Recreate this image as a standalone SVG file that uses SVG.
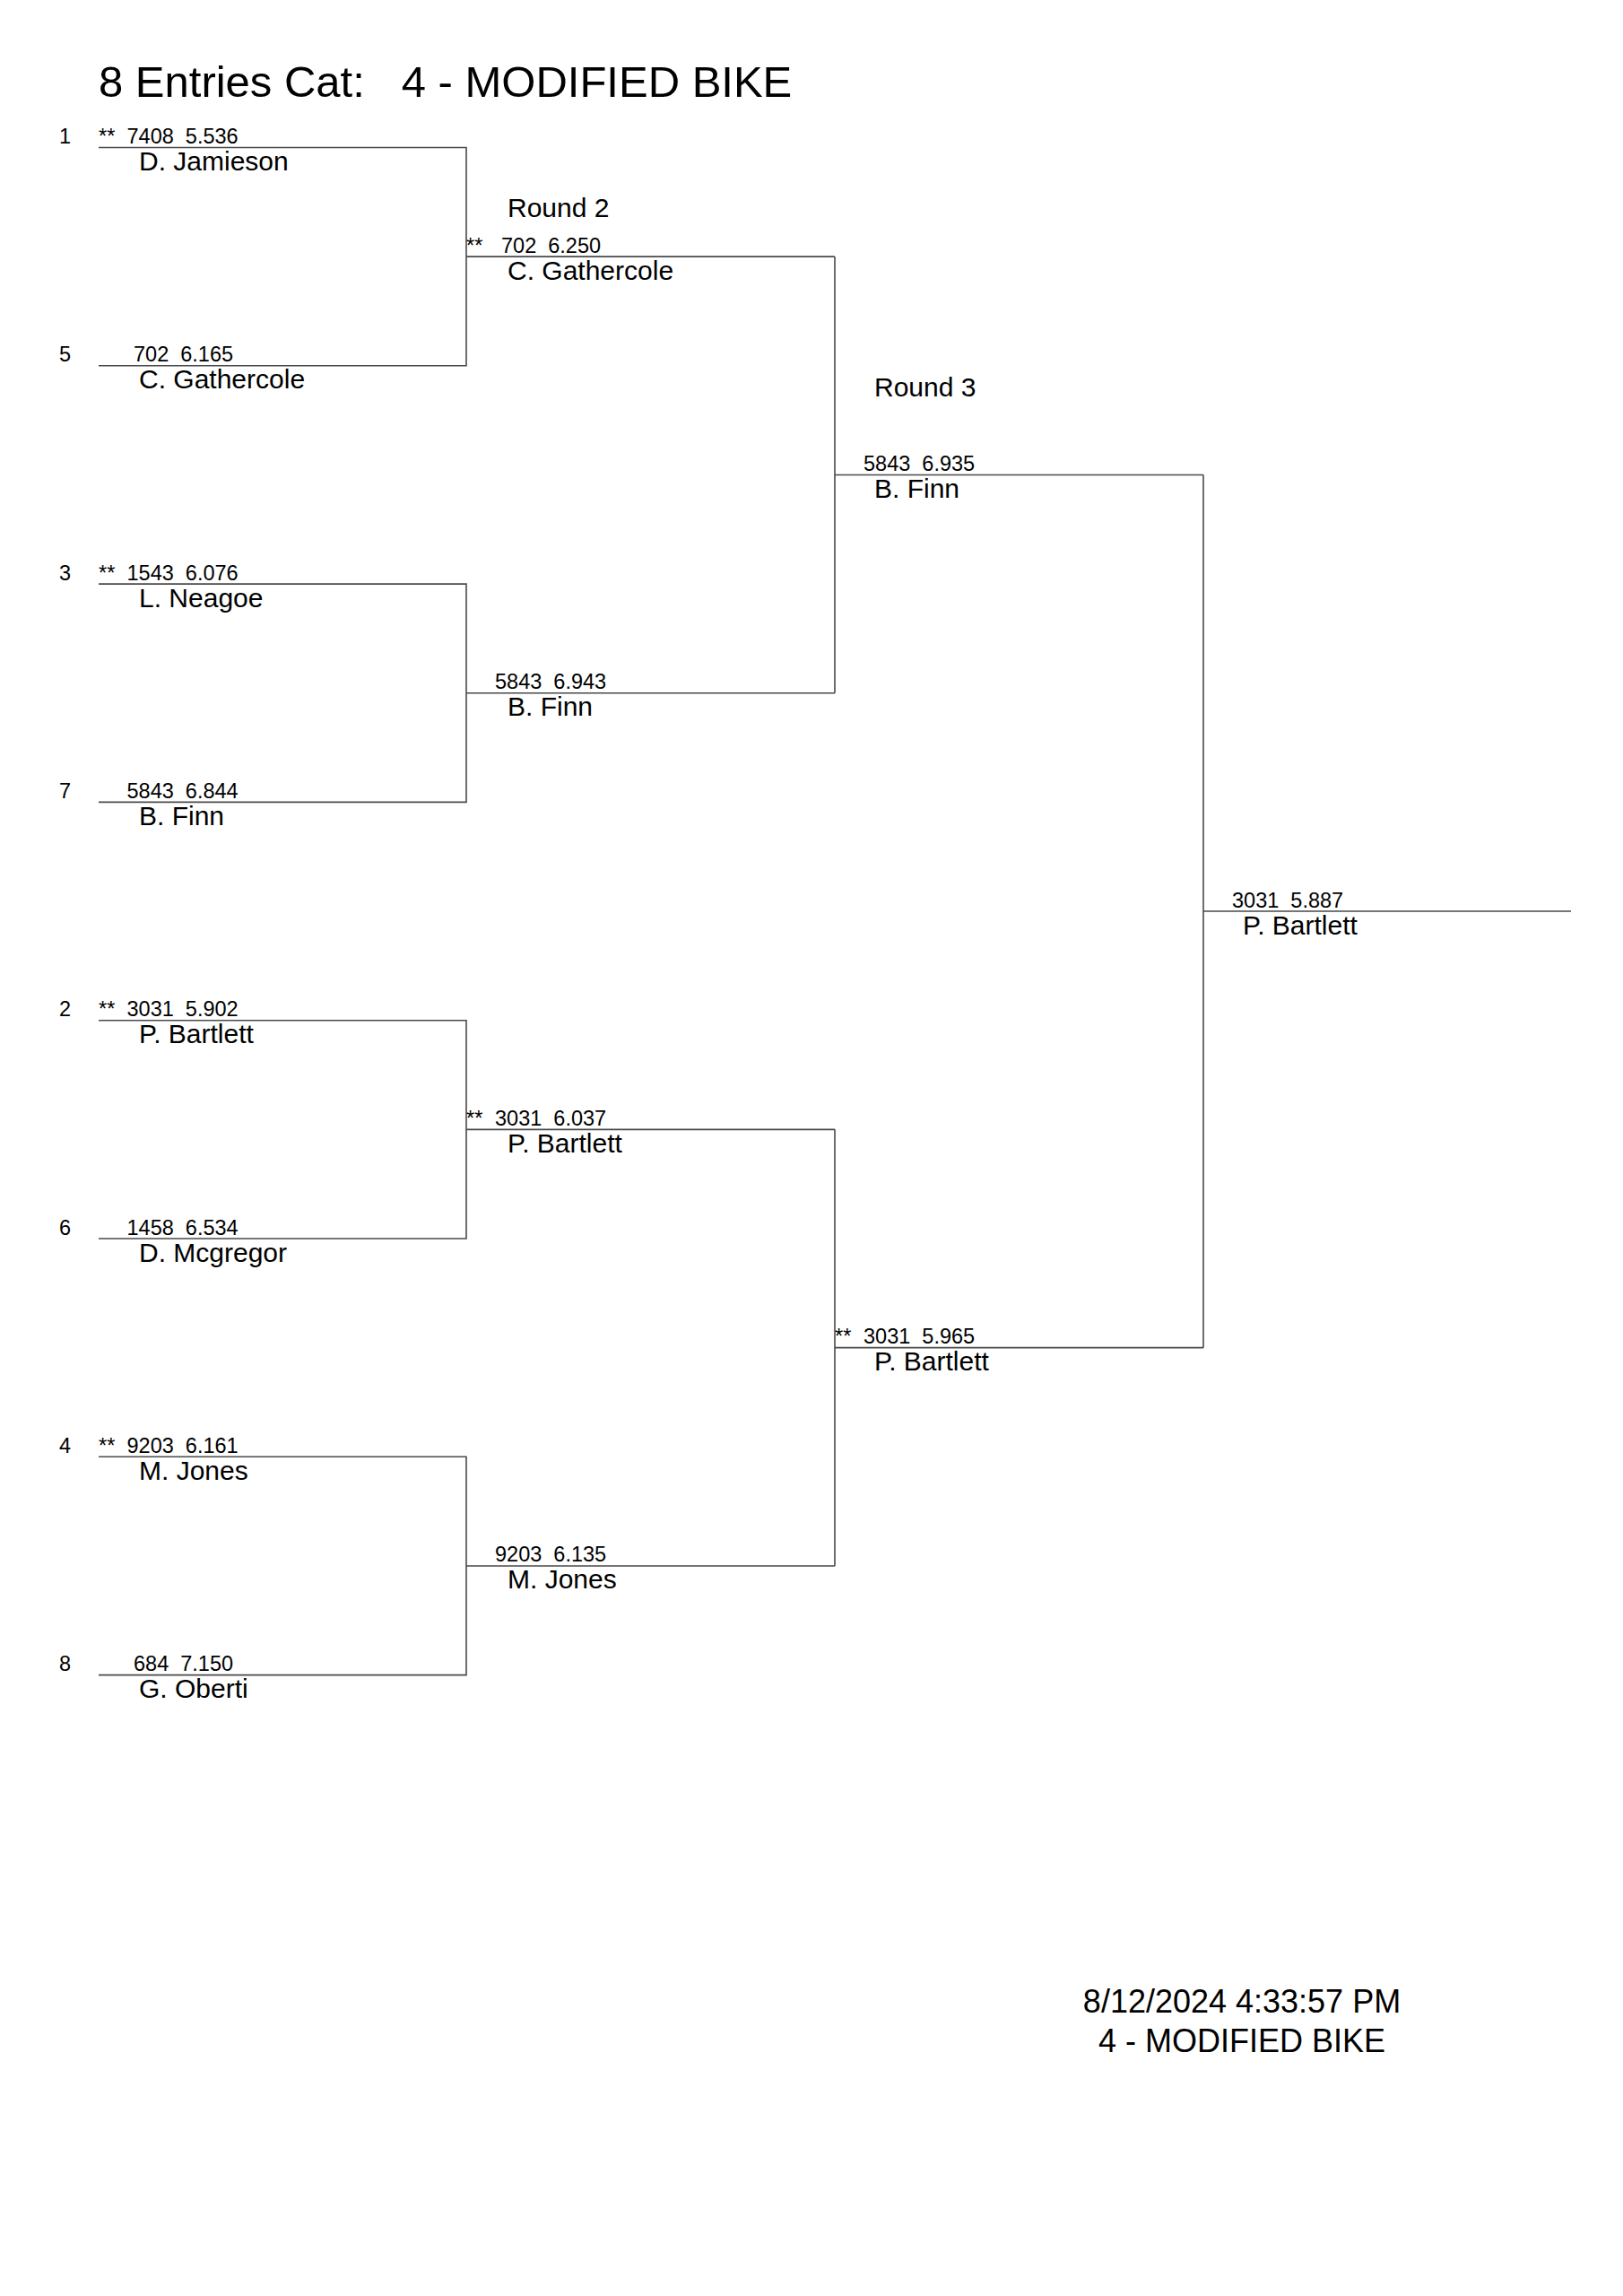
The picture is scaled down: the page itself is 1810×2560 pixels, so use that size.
<svg xmlns="http://www.w3.org/2000/svg" width="1810" height="2560" viewBox="0 0 1810 2560">
<style>
text{font-family:"Liberation Sans",Arial,sans-serif;fill:#000}
.title{font-size:49px}
.num{font-size:23.5px;white-space:pre}
.seed{font-size:23.5px}
.name{font-size:30px}
.round{font-size:30px}
.foot{font-size:36px;text-anchor:middle}
.ln{stroke:#4a4a4a;stroke-width:1.6;fill:none}
</style>
<rect width="1810" height="2560" fill="#fff"/>
<g id="title"><text class="title" x="110" y="108" xml:space="preserve">8 Entries Cat:   4 - MODIFIED BIKE</text></g>
<g id="connectors">
<path class="ln" d="M110,164.5H520V407.8H110M520,286.15H931"/>
<path class="ln" d="M110,651.1H520V894.4H110M520,772.75H931"/>
<path class="ln" d="M110,1137.7H520V1381H110M520,1259.35H931"/>
<path class="ln" d="M110,1624.3H520V1867.6H110M520,1745.95H931"/>
<path class="ln" d="M931,286.15V772.75M931,529.45H1342"/>
<path class="ln" d="M931,1259.35V1745.95M931,1502.65H1342"/>
<path class="ln" d="M1342,529.45V1502.65M1342,1016.05H1752"/>
</g>
<g id="r1-1"><text class="seed" x="66" y="160">1</text><text class="num" x="110" y="160">**</text><text class="num" x="141.5" y="160" xml:space="preserve">7408  5.536</text><text class="name" x="155" y="190">D. Jamieson</text></g>
<g id="r1-5"><text class="seed" x="66" y="403.3">5</text><text class="num" x="149" y="403.3" xml:space="preserve">702  6.165</text><text class="name" x="155" y="433.3">C. Gathercole</text></g>
<g id="r1-3"><text class="seed" x="66" y="646.6">3</text><text class="num" x="110" y="646.6">**</text><text class="num" x="141.5" y="646.6" xml:space="preserve">1543  6.076</text><text class="name" x="155" y="676.6">L. Neagoe</text></g>
<g id="r1-7"><text class="seed" x="66" y="889.9">7</text><text class="num" x="141.5" y="889.9" xml:space="preserve">5843  6.844</text><text class="name" x="155" y="919.9">B. Finn</text></g>
<g id="r1-2"><text class="seed" x="66" y="1133.2">2</text><text class="num" x="110" y="1133.2">**</text><text class="num" x="141.5" y="1133.2" xml:space="preserve">3031  5.902</text><text class="name" x="155" y="1163.2">P. Bartlett</text></g>
<g id="r1-6"><text class="seed" x="66" y="1376.5">6</text><text class="num" x="141.5" y="1376.5" xml:space="preserve">1458  6.534</text><text class="name" x="155" y="1406.5">D. Mcgregor</text></g>
<g id="r1-4"><text class="seed" x="66" y="1619.8">4</text><text class="num" x="110" y="1619.8">**</text><text class="num" x="141.5" y="1619.8" xml:space="preserve">9203  6.161</text><text class="name" x="155" y="1649.8">M. Jones</text></g>
<g id="r1-8"><text class="seed" x="66" y="1863.1">8</text><text class="num" x="149" y="1863.1" xml:space="preserve">684  7.150</text><text class="name" x="155" y="1893.1">G. Oberti</text></g>
<g id="round2-label"><text class="round" x="566" y="241.7">Round 2</text></g>
<g id="r2-1"><text class="num" x="520" y="281.65">**</text><text class="num" x="559" y="281.65" xml:space="preserve">702  6.250</text><text class="name" x="566" y="311.65">C. Gathercole</text></g>
<g id="r2-2"><text class="num" x="552" y="768.25" xml:space="preserve">5843  6.943</text><text class="name" x="566" y="798.25">B. Finn</text></g>
<g id="r2-3"><text class="num" x="520" y="1254.85">**</text><text class="num" x="552" y="1254.85" xml:space="preserve">3031  6.037</text><text class="name" x="566" y="1284.85">P. Bartlett</text></g>
<g id="r2-4"><text class="num" x="552" y="1741.45" xml:space="preserve">9203  6.135</text><text class="name" x="566" y="1771.45">M. Jones</text></g>
<g id="round3-label"><text class="round" x="975" y="441.7">Round 3</text></g>
<g id="r3-1"><text class="num" x="963" y="524.95" xml:space="preserve">5843  6.935</text><text class="name" x="975" y="554.95">B. Finn</text></g>
<g id="r3-2"><text class="num" x="931" y="1498.15">**</text><text class="num" x="963" y="1498.15" xml:space="preserve">3031  5.965</text><text class="name" x="975" y="1528.15">P. Bartlett</text></g>
<g id="final"><text class="num" x="1374" y="1011.55" xml:space="preserve">3031  5.887</text><text class="name" x="1386" y="1041.55">P. Bartlett</text></g>
<g id="footer"><text class="foot" x="1385" y="2244">8/12/2024 4:33:57 PM</text><text class="foot" x="1385" y="2288">4 - MODIFIED BIKE</text></g>
</svg>
